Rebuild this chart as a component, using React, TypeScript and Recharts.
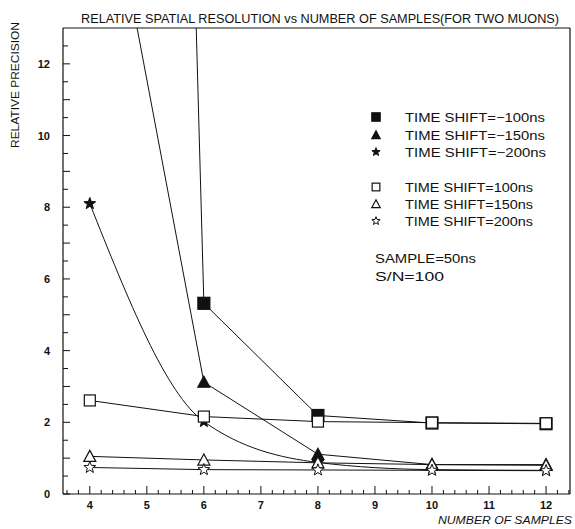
import React from 'react';
import { LineChart, Line, XAxis, YAxis, ReferenceLine } from 'recharts';

// ---- data ----
const samples = [4, 6, 8, 10, 12];
const shiftMinus100 = [120, 5.32, 2.19, 1.98, 1.96];
const shiftMinus150 = [20, 3.12, 1.11, 0.82, 0.82];
const shiftMinus200 = [8.1, 2.02, 0.88, 0.68, 0.66];
const shift100 = [2.61, 2.16, 2.02, 1.99, 1.97];
const shift150 = [1.05, 0.95, 0.87, 0.82, 0.8];
const shift200 = [0.74, 0.68, 0.67, 0.66, 0.65];

const seriesNames = [
  'TIME SHIFT=\u2212100ns',
  'TIME SHIFT=\u2212150ns',
  'TIME SHIFT=\u2212200ns',
  'TIME SHIFT=100ns',
  'TIME SHIFT=150ns',
  'TIME SHIFT=200ns',
];
const notes = ['SAMPLE=50ns', 'S/N=100'];
const xTickLabels = [4, 5, 6, 7, 8, 9, 10, 11, 12];
const yTickLabels = [0, 2, 4, 6, 8, 10, 12];
const title = 'RELATIVE SPATIAL RESOLUTION vs NUMBER OF SAMPLES(FOR TWO MUONS)';
const xLabel = 'NUMBER OF SAMPLES';
const yLabel = 'RELATIVE PRECISION';

const seriesKeys = ['m100', 'm150', 'm200', 'p100', 'p150', 'p200'];
const seriesValues = [shiftMinus100, shiftMinus150, shiftMinus200, shift100, shift150, shift200];
const seriesShapes = ['fsquare', 'ftri', 'fstar', 'hsquare', 'htri', 'hstar'];
const seriesCurve = ['linear', 'linear', 'monotone', 'linear', 'linear', 'linear'];

const data = samples.map((x, i) => {
  const row: any = { x };
  seriesKeys.forEach((k, j) => {
    row[k] = seriesValues[j][i];
  });
  return row;
});

// minor tick positions (axis decoration)
const xMinorTicks: number[] = [];
for (let i = 18; i <= 62; i++) xMinorTicks.push(Math.round(i * 2) / 10);
const yMinorTicks: number[] = [];
for (let i = 0; i <= 25; i++) yMinorTicks.push(i / 2);

const FONT = '"Liberation Sans", Arial, sans-serif';

function starPoints(cx: number, cy: number, ro: number, ri: number) {
  const pts: string[] = [];
  for (let i = 0; i < 10; i++) {
    const r = i % 2 === 0 ? ro : ri;
    const a = -Math.PI / 2 + (i * Math.PI) / 5;
    pts.push(`${cx + r * Math.cos(a)},${cy + r * Math.sin(a)}`);
  }
  return pts.join(' ');
}

function Marker({ shape, cx, cy, s = 1 }: { shape: string; cx: number; cy: number; s?: number }) {
  const filled = shape[0] === 'f';
  const fill = filled ? '#111' : '#fff';
  const sw = 1.2;
  if (shape.endsWith('square')) {
    const h = (filled ? 6 : 5.5) * s;
    return <rect x={cx - h} y={cy - h} width={2 * h} height={2 * h} fill={fill} stroke="#111" strokeWidth={sw} />;
  }
  if (shape.endsWith('tri')) {
    const h = 6 * s;
    return (
      <polygon
        points={`${cx},${cy - h} ${cx - h},${cy + h * 0.85} ${cx + h},${cy + h * 0.85}`}
        fill={fill}
        stroke="#111"
        strokeWidth={sw}
      />
    );
  }
  return <polygon points={starPoints(cx, cy, 6.2 * s, 2.6 * s)} fill={fill} stroke="#111" strokeWidth={1} />;
}

const makeDot = (shape: string) => (props: any) => {
  const { cx, cy, index } = props;
  if (cx == null || cy == null) return <g key={index} />;
  return (
    <g key={`${shape}-${index}`}>
      <Marker shape={shape} cx={cx} cy={cy} />
    </g>
  );
};

const XTick = (props: any) => {
  const { x, y, payload } = props;
  const v = payload.value;
  const isInt = Math.abs(v - Math.round(v)) < 1e-6;
  const len = isInt ? 8 : 4;
  const labeled = isInt && xTickLabels.includes(Math.round(v));
  return (
    <g>
      <line x1={x} y1={y} x2={x} y2={y - len} stroke="#111" strokeWidth={1} />
      {labeled && (
        <text x={x} y={y + 15} textAnchor="middle" fontFamily={FONT} fontSize={11} fontWeight="bold" fill="#111">
          {Math.round(v)}
        </text>
      )}
    </g>
  );
};

const YTick = (props: any) => {
  const { x, y, payload } = props;
  const v = payload.value;
  const isInt = Math.abs(v - Math.round(v)) < 1e-6;
  const len = isInt ? 7 : 5;
  const labeled = isInt && yTickLabels.includes(Math.round(v));
  return (
    <g>
      <line x1={x} y1={y} x2={x + len} y2={y} stroke="#111" strokeWidth={1} />
      {labeled && (
        <text x={x - 13} y={y + 4} textAnchor="end" fontFamily={FONT} fontSize={11} fontWeight="bold" fill="#111">
          {Math.round(v)}
        </text>
      )}
    </g>
  );
};

const legendRows = [117, 135, 152, 187, 204, 221];
const legendWidths = [140, 140, 141, 128, 128, 128];
const noteRows = [258, 276];
const noteWidths = [101, 69];

export default function App() {
  return (
    <div style={{ position: 'absolute', left: 0, top: 0, width: 575, height: 529, background: '#fff' }}>
      <LineChart
        width={575}
        height={529}
        data={data}
        margin={{ top: 28, right: 5, left: 3, bottom: 5 }}
      >
        <XAxis
          dataKey="x"
          type="number"
          domain={[3.53, 12.42]}
          allowDataOverflow
          ticks={xMinorTicks}
          interval={0}
          tickSize={0}
          tickMargin={0}
          tickLine={false}
          tick={<XTick />}
          height={30}
          axisLine={{ stroke: '#111', strokeWidth: 1.2 }}
        />
        <YAxis
          type="number"
          domain={[0, 13]}
          allowDataOverflow
          ticks={yMinorTicks}
          interval={0}
          tickSize={0}
          tickMargin={0}
          tickLine={false}
          tick={<YTick />}
          width={60}
          axisLine={{ stroke: '#111', strokeWidth: 1.2 }}
        />
        <ReferenceLine y={13} stroke="#111" strokeWidth={1.2} />
        <ReferenceLine x={12.42} stroke="#111" strokeWidth={1.2} />
        {seriesKeys.map((k, j) => (
          <Line
            key={k}
            dataKey={k}
            name={seriesNames[j]}
            type={seriesCurve[j] as any}
            stroke="#111"
            strokeWidth={1}
            dot={makeDot(seriesShapes[j])}
            activeDot={false}
            isAnimationActive={false}
          />
        ))}
      </LineChart>
      <svg
        width={575}
        height={529}
        style={{ position: 'absolute', left: 0, top: 0, pointerEvents: 'none' }}
      >
        <text x={81} y={23} fontFamily={FONT} fontSize={12.5} fill="#111" textLength={478} lengthAdjust="spacingAndGlyphs">
          {title}
        </text>
        <text
          x={0}
          y={0}
          transform="translate(19,148) rotate(-90)"
          fontFamily={FONT}
          fontSize={11}
          fill="#111"
          textLength={126}
          lengthAdjust="spacingAndGlyphs"
        >
          {yLabel}
        </text>
        <text x={438} y={524} fontFamily={FONT} fontSize={11.5} fontStyle="italic" fill="#111" textLength={134} lengthAdjust="spacingAndGlyphs">
          {xLabel}
        </text>
        {seriesNames.map((n, j) => (
          <g key={n}>
            <Marker shape={seriesShapes[j]} cx={376} cy={legendRows[j]} s={0.7} />
            <text
              x={405}
              y={legendRows[j] + 4.5}
              fontFamily={FONT}
              fontSize={12.5}
              fill="#111"
              textLength={legendWidths[j]}
              lengthAdjust="spacingAndGlyphs"
            >
              {n}
            </text>
          </g>
        ))}
        {notes.map((n, j) => (
          <text
            key={n}
            x={375}
            y={noteRows[j] + 4.5}
            fontFamily={FONT}
            fontSize={12.5}
            fill="#111"
            textLength={noteWidths[j]}
            lengthAdjust="spacingAndGlyphs"
          >
            {n}
          </text>
        ))}
      </svg>
    </div>
  );
}
